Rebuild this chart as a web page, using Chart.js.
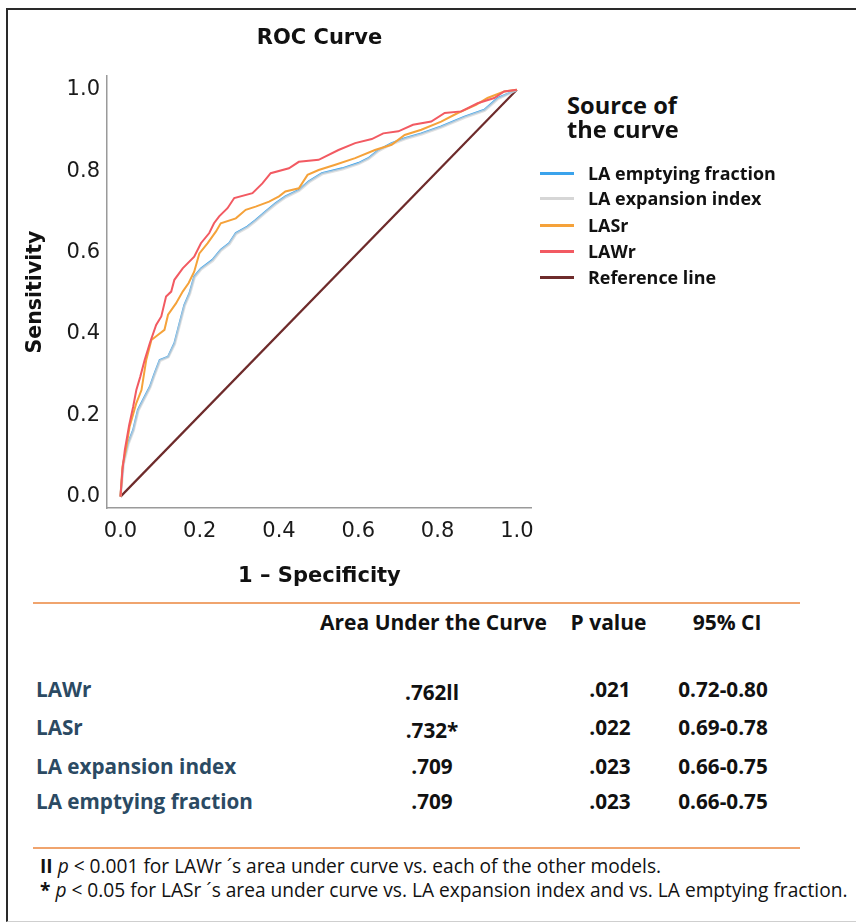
<!DOCTYPE html>
<html>
<head>
<meta charset="utf-8">
<script src="https://cdn.jsdelivr.net/npm/chart.js@4"></script>
<style>
  html,body{margin:0;padding:0;background:#fff;}
  body{width:856px;height:923px;overflow:hidden;position:relative;font-family:"Open Sans","Noto Sans",sans-serif;}
  #frame{position:absolute;left:6px;top:8px;width:880px;height:911px;border-left:2px solid #2a2a2a;border-top:2px solid #2a2a2a;border-bottom:1px solid #cfcfcf;}
  #chartBox{position:absolute;left:0;top:0;width:545px;height:600px;}
  .t{position:absolute;white-space:nowrap;}
  .hr{position:absolute;height:2px;background:#f0a46e;}
  .sw{position:absolute;width:34px;height:2.5px;}
</style>
</head>
<body>
<div id="frame"></div>
<div id="chartBox"><canvas id="c"></canvas></div>
<div id="legend"></div>
<div id="table"></div>
<script>
// ---------- DATA ----------
const seriesNames = ['LA emptying fraction', 'LA expansion index', 'LASr', 'LAWr', 'Reference line'];
const seriesColors = ['#3ba3ec', '#d6d6d6', '#f5a23a', '#f25a62', '#6e2b2b'];

// LAWr (red)
const lawrX = [0, 0.005, 0.011, 0.022, 0.032, 0.040, 0.050, 0.061, 0.074, 0.090, 0.103, 0.115, 0.128, 0.136, 0.157, 0.186, 0.203, 0.224, 0.236, 0.249, 0.270, 0.287, 0.333, 0.358, 0.379, 0.425, 0.450, 0.500, 0.550, 0.592, 0.634, 0.663, 0.701, 0.738, 0.784, 0.818, 0.860, 0.901, 0.943, 0.968, 1];
const lawrY = [0, 0.066, 0.115, 0.176, 0.221, 0.262, 0.295, 0.336, 0.377, 0.422, 0.443, 0.492, 0.504, 0.533, 0.561, 0.590, 0.623, 0.648, 0.672, 0.689, 0.709, 0.734, 0.746, 0.770, 0.795, 0.807, 0.823, 0.828, 0.852, 0.869, 0.879, 0.893, 0.898, 0.914, 0.922, 0.943, 0.947, 0.967, 0.980, 0.996, 1];

// LASr (orange)
const lasrX = [0, 0.005, 0.015, 0.023, 0.040, 0.053, 0.065, 0.078, 0.095, 0.111, 0.120, 0.140, 0.157, 0.172, 0.186, 0.199, 0.220, 0.241, 0.253, 0.291, 0.316, 0.341, 0.375, 0.400, 0.416, 0.450, 0.472, 0.500, 0.542, 0.592, 0.642, 0.684, 0.717, 0.759, 0.809, 0.851, 0.897, 0.926, 0.968, 1];
const lasrY = [0, 0.074, 0.123, 0.172, 0.230, 0.262, 0.336, 0.385, 0.398, 0.410, 0.447, 0.475, 0.504, 0.525, 0.553, 0.598, 0.623, 0.652, 0.672, 0.684, 0.705, 0.713, 0.725, 0.738, 0.750, 0.758, 0.791, 0.803, 0.816, 0.832, 0.852, 0.865, 0.889, 0.902, 0.922, 0.943, 0.963, 0.980, 0.996, 1];

// LA emptying fraction (blue)
const laefX = [0, 0.007, 0.019, 0.032, 0.044, 0.057, 0.074, 0.086, 0.099, 0.120, 0.136, 0.149, 0.161, 0.174, 0.186, 0.203, 0.232, 0.253, 0.274, 0.291, 0.320, 0.341, 0.366, 0.391, 0.416, 0.450, 0.475, 0.508, 0.559, 0.600, 0.625, 0.651, 0.684, 0.717, 0.759, 0.809, 0.868, 0.918, 0.952, 1];
const laefY = [0, 0.082, 0.131, 0.164, 0.213, 0.238, 0.270, 0.303, 0.336, 0.344, 0.377, 0.426, 0.471, 0.500, 0.541, 0.561, 0.582, 0.607, 0.623, 0.648, 0.664, 0.680, 0.701, 0.721, 0.738, 0.754, 0.775, 0.795, 0.807, 0.820, 0.832, 0.852, 0.869, 0.881, 0.893, 0.910, 0.934, 0.951, 0.980, 1];

// LA expansion index (grey)
const laeiX = [0, 0.008, 0.020, 0.033, 0.045, 0.058, 0.075, 0.087, 0.100, 0.121, 0.137, 0.150, 0.162, 0.175, 0.187, 0.204, 0.233, 0.254, 0.275, 0.292, 0.321, 0.342, 0.367, 0.392, 0.417, 0.451, 0.476, 0.509, 0.560, 0.601, 0.626, 0.652, 0.685, 0.718, 0.760, 0.810, 0.869, 0.919, 0.953, 1];
const laeiY = [0, 0.080, 0.129, 0.162, 0.211, 0.236, 0.268, 0.301, 0.334, 0.343, 0.375, 0.424, 0.469, 0.498, 0.539, 0.559, 0.580, 0.605, 0.621, 0.646, 0.662, 0.678, 0.699, 0.719, 0.736, 0.752, 0.773, 0.793, 0.805, 0.818, 0.830, 0.850, 0.867, 0.879, 0.891, 0.908, 0.932, 0.949, 0.978, 1];

// Reference line
const refX = [0, 1];
const refY = [0, 1];

const xTicks = [0, 0.2, 0.4, 0.6, 0.8, 1.0];
const yTicks = [0, 0.2, 0.4, 0.6, 0.8, 1.0];

// Table
const tableHeaders = ['Area Under the Curve', 'P value', '95% CI'];
const tableRows = ['LAWr', 'LASr', 'LA expansion index', 'LA emptying fraction'];
const aucValues = ['.762', '.732', '.709', '.709'];
const aucMarks = ['ll', '*', '', ''];
const pValues = ['.021', '.022', '.023', '.023'];
const ciValues = ['0.72-0.80', '0.69-0.78', '0.66-0.75', '0.66-0.75'];
const footnotes = [
  ['II', ' p', ' < 0.001 for LAWr \u00b4s area under curve vs. each of the other models.'],
  ['*', ' p', ' < 0.05 for LASr \u00b4s area under curve vs. LA expansion index and vs. LA emptying fraction.']
];

// ---------- CHART ----------
function pts(xs, ys){ return xs.map((x,i)=>({x:x, y:ys[i]})); }
const seriesX = [laefX, laeiX, lasrX, lawrX, refX];
const seriesY = [laefY, laeiY, lasrY, lawrY, refY];
const lineColors = ['#3ba3ec', 'rgba(214,214,214,0.72)', '#f5a23a', '#f25a62', '#6e2b2b'];
const widths = [2, 2.6, 2, 2, 2.2];
const orders = [3, 2, 1, 0, 4];

const datasets = seriesNames.map((n,i)=>({
  label: n,
  data: pts(seriesX[i], seriesY[i]),
  borderColor: lineColors[i],
  backgroundColor: lineColors[i],
  borderWidth: widths[i],
  pointRadius: 0,
  tension: 0,
  fill: false,
  order: orders[i]
}));

Chart.defaults.font.family = '"DejaVu Sans", sans-serif';
Chart.defaults.color = '#1a1a1a';

new Chart(document.getElementById('c'), {
  type: 'line',
  data: { datasets },
  options: {
    responsive: true,
    maintainAspectRatio: false,
    animation: false,
    devicePixelRatio: 1,
    layout: { padding: { left: 0, right: 11, top: 0, bottom: 0 } },
    plugins: {
      legend: { display: false },
      tooltip: { enabled: false },
      title: {
        display: true, text: 'ROC Curve', fullSize: false,
        font: { family: '"DejaVu Sans", sans-serif', size: 21, weight: 'bold' },
        color: '#111',
        padding: { top: 26.4, bottom: 24.4 }
      }
    },
    scales: {
      x: {
        type: 'linear', min: -0.034, max: 1.038,
        afterBuildTicks: s => { s.ticks = xTicks.map(v => ({ value: v })); },
        afterFit: s => { s.height = 92; },
        grid: { display: false, drawTicks: false },
        border: { display: true, color: '#9a9a9a', width: 1.5 },
        ticks: { padding: 11, font: { size: 21 }, color: '#1a1a1a', maxRotation: 0, callback: v => Number(v).toFixed(1) },
        title: { display: true, text: '1 \u2013 Specificity', font: { size: 21, weight: 'bold' }, color: '#111', padding: { top: 0, bottom: 11 } }
      },
      y: {
        type: 'linear', min: -0.028, max: 1.034,
        afterBuildTicks: s => { s.ticks = yTicks.map(v => ({ value: v })); },
        afterFit: s => { s.width = 107; },
        grid: { display: false, drawTicks: false },
        border: { display: true, color: '#9a9a9a', width: 1.5 },
        ticks: { padding: 7, font: { size: 21 }, color: '#1a1a1a', callback: v => Number(v).toFixed(1) },
        title: { display: true, text: 'Sensitivity', font: { size: 20.5, weight: 'bold' }, color: '#111', padding: { top: 23, bottom: 0 } }
      }
    }
  }
});

// ---------- TEXT HELPERS ----------
const root = document.getElementById('table');
function put(html, x, cy, o){
  const d = document.createElement('div');
  d.className = 't';
  const size = o.size || 20;
  d.style.fontFamily = o.family || '"Open Sans", sans-serif';
  d.style.fontWeight = o.weight || 'bold';
  d.style.color = o.color || '#111';
  d.style.fontSize = size + 'px';
  const lh = Math.round(size * 1.3);
  d.style.lineHeight = lh + 'px';
  d.innerHTML = html;
  (o.parent || root).appendChild(d);
  d.style.top = (cy - lh/2) + 'px';
  const wd = d.getBoundingClientRect().width;
  d.style.left = (o.align === 'center' ? x - wd/2 : x) + 'px';
}
// font size at which html is w px wide
function fitSize(html, w, o){
  const d = document.createElement('div');
  d.className = 't';
  d.style.fontFamily = (o && o.family) || '"Open Sans", sans-serif';
  d.style.fontWeight = (o && o.weight) || 'bold';
  d.style.fontSize = '20px';
  d.style.visibility = 'hidden';
  d.innerHTML = html;
  document.body.appendChild(d);
  const s = 20 * w / d.getBoundingClientRect().width;
  d.remove();
  return s;
}

// ---------- LEGEND (HTML) ----------
const legend = document.getElementById('legend');
const ltSize = fitSize('Source of', 110);
put('Source of', 567, 105, {size: ltSize, parent: legend});
put('the curve', 567, 129, {size: ltSize, parent: legend});
const legendY = [173, 198, 225, 251, 277];
const liSize = fitSize(seriesNames[0], 188);
seriesNames.forEach((n,i)=>{
  const s = document.createElement('div');
  s.className = 'sw';
  s.style.left = '540px';
  s.style.top = (legendY[i] - 1) + 'px';
  s.style.background = seriesColors[i];
  legend.appendChild(s);
  put(n, 588, legendY[i], {size: liSize, parent: legend});
});

// ---------- TABLE (HTML) ----------
function hr(y){ const d=document.createElement('div'); d.className='hr'; d.style.left='33px'; d.style.width='767px'; d.style.top=(y-1)+'px'; root.appendChild(d); }
hr(603);
hr(848);
const headSize = fitSize(tableHeaders[0], 227);
const headX = [433.5, 608.5, 727];
tableHeaders.forEach((h,i)=> put(h, headX[i], 622, {align:'center', size: headSize}));

const rowY = [689, 727, 766, 801];
const aucDy = [3, 3, 0, 0];
const bodySize = fitSize(tableRows[3], 217);
tableRows.forEach((r,i)=>{
  put(r, 36, rowY[i], {size: bodySize, color:'#2b4a63'});
  put(aucValues[i] + aucMarks[i], 432, rowY[i] + aucDy[i], {align:'center', size: bodySize});
  put(pValues[i], 610, rowY[i], {align:'center', size: bodySize});
  put(ciValues[i], 723, rowY[i], {align:'center', size: bodySize});
});
const footY = [866, 890];
const footHtml = footnotes.map(f => '<b>' + f[0] + '</b><i>' + f[1] + '</i>' + f[2]);
const footSize = fitSize(footHtml[1], 808, {weight:'normal'});
footHtml.forEach((h,i)=>{
  put(h, 40, footY[i], {size: footSize, weight:'normal', color:'#111'});
});
</script>
</body>
</html>
